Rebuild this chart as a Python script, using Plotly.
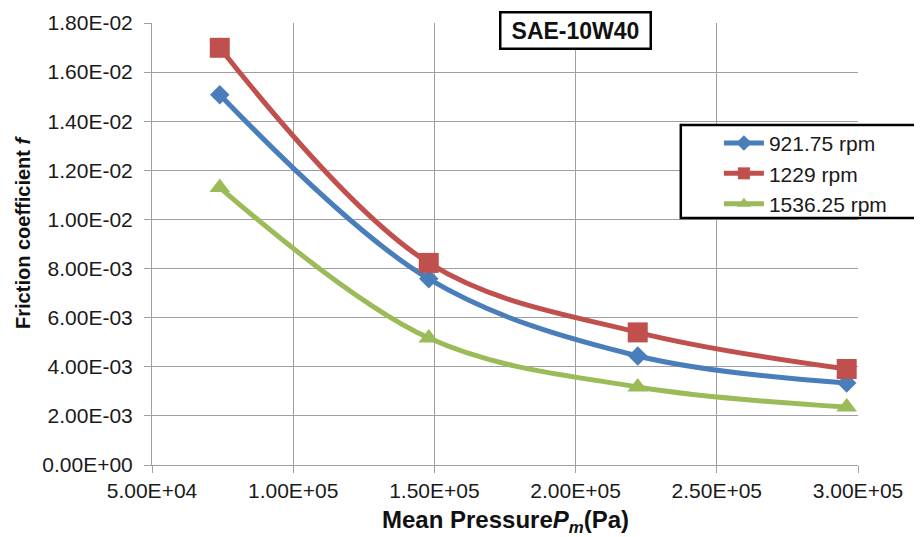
import plotly.graph_objects as go

pressure = [7.4e4, 1.48e5, 2.22e5, 2.96e5]
f_921 = [0.01508, 0.00758, 0.00444, 0.00334]
f_1229 = [0.01699, 0.00823, 0.00540, 0.00391]
f_1536 = [0.01130, 0.00517, 0.00318, 0.00236]
series_names = ["921.75 rpm", "1229 rpm", "1536.25 rpm"]
colors = ["#4a7ebb", "#c0504d", "#9bbb59"]
symbols = ["diamond", "square", "triangle-up"]
marker_sizes = [15, 20, 18]

x_tickvals = [5e4, 1e5, 1.5e5, 2e5, 2.5e5, 3e5]
x_ticktext = ["5.00E+04", "1.00E+05", "1.50E+05", "2.00E+05", "2.50E+05", "3.00E+05"]
y_tickvals = [0, 0.002, 0.004, 0.006, 0.008, 0.010, 0.012, 0.014, 0.016, 0.018]
y_ticktext = ["0.00E+00", "2.00E-03", "4.00E-03", "6.00E-03", "8.00E-03",
              "1.00E-02", "1.20E-02", "1.40E-02", "1.60E-02", "1.80E-02"]

fig = go.Figure()
for name, ys, c, s, ms in zip(series_names, [f_921, f_1229, f_1536], colors, symbols, marker_sizes):
    fig.add_trace(go.Scatter(
        x=pressure, y=ys, name=name, mode="lines+markers",
        line=dict(color=c, width=5, shape="spline", smoothing=1.0),
        marker=dict(color=c, symbol=s, size=ms),
    ))

font_family = "Liberation Sans, Arial, sans-serif"
grid_c = "#a0a0a0"
fig.update_layout(
    width=914, height=529,
    margin=dict(l=144, r=64, t=15, b=72, autoexpand=False),
    paper_bgcolor="white", plot_bgcolor="white",
    font=dict(family=font_family, size=21, color="#1a1a1a"),
    showlegend=True,
    legend=dict(
        x=0.803, y=0.774, xanchor="left", yanchor="top",
        bgcolor="rgba(0,0,0,0)", borderwidth=0,
        font=dict(size=21, color="#1a1a1a"),
        itemwidth=40, tracegroupgap=0, itemsizing="constant",
    ),
    xaxis=dict(
        range=[5e4, 3e5], tickvals=x_tickvals, ticktext=x_ticktext,
        showgrid=True, gridcolor=grid_c, gridwidth=1,
        ticks="outside", ticklen=7, tickcolor=grid_c,
        zeroline=False, showline=True, linecolor=grid_c, linewidth=1,
        tickfont=dict(size=21, color="#1a1a1a"),
    ),
    yaxis=dict(
        range=[0, 0.018], tickvals=y_tickvals, ticktext=y_ticktext,
        showgrid=True, gridcolor=grid_c, gridwidth=1,
        ticks="outside", ticklen=7, tickcolor=grid_c, ticklabelstandoff=7,
        zeroline=False, showline=True, linecolor=grid_c, linewidth=1,
        tickfont=dict(size=21, color="#1a1a1a"),
    ),
    shapes=[dict(
        type="rect", xref="paper", yref="paper",
        x0=0.749, x1=1.089, y0=0.559, y1=0.769,
        line=dict(color="black", width=2.5), fillcolor="white", layer="above",
    )],
    annotations=[
        dict(
            x=2e5, y=0.982, xref="x", yref="paper",
            xanchor="center", yanchor="middle",
            text="<b>SAE-10W40</b>", showarrow=False,
            font=dict(size=23, color="#111"),
            width=140, height=26,
            bgcolor="white", bordercolor="black", borderwidth=2.5, borderpad=4,
        ),
        dict(
            x=-0.1827, y=0.525, xref="paper", yref="paper",
            text="<b>Friction coefficient <i>f</i></b>", showarrow=False,
            textangle=-90, xanchor="center", yanchor="middle",
            font=dict(size=20, color="#111"),
        ),
        dict(
            x=0.5, y=-0.127, xref="paper", yref="paper",
            text="<b>Mean Pressure<i>P</i><sub><i>m</i></sub>(Pa)</b>", showarrow=False,
            xanchor="center", yanchor="middle",
            font=dict(size=24, color="#111"),
        ),
    ],
)

fig.write_html("out.html")
